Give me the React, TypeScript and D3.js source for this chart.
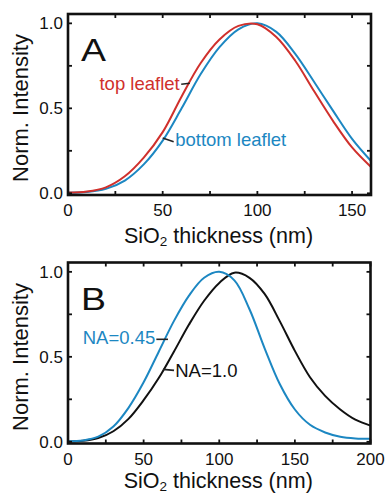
import * as d3 from 'd3';
import { useEffect, useRef } from 'react';

// panel A: top vs bottom leaflet
const thicknessA = [0, 10, 20, 30, 40, 50, 60, 70, 80, 90, 100, 110, 120, 130, 140, 150, 160];
const topLeaflet = [0.004, 0.01, 0.035, 0.1, 0.21, 0.36, 0.57, 0.765, 0.905, 0.985, 0.995, 0.92, 0.78, 0.6, 0.425, 0.27, 0.155];
const bottomLeaflet = [0.003, 0.007, 0.026, 0.075, 0.17, 0.31, 0.5, 0.7, 0.86, 0.965, 1.0, 0.95, 0.82, 0.655, 0.485, 0.32, 0.19];

// panel B: two numerical apertures
const thicknessB = [0, 10, 20, 30, 40, 50, 60, 70, 80, 90, 100, 110, 120, 130, 140, 150, 160, 170, 180, 190, 200];
const na045 = [0.003, 0.008, 0.03, 0.09, 0.2, 0.35, 0.53, 0.71, 0.86, 0.965, 1.0, 0.95, 0.78, 0.55, 0.34, 0.19, 0.1, 0.055, 0.03, 0.02, 0.018];
const na10 = [0.002, 0.006, 0.022, 0.062, 0.135, 0.245, 0.375, 0.53, 0.69, 0.83, 0.935, 0.995, 0.965, 0.87, 0.71, 0.535, 0.38, 0.27, 0.19, 0.13, 0.095];

const xTickLabelsA = [0, 50, 100, 150];
const xTickLabelsB = [0, 50, 100, 150, 200];
const yTickLabels = [0, 0.5, 1];

const RED = '#d0302c';
const BLUE = '#1c87c2';
const INK = '#111';
const FONT = '"Liberation Sans", Arial, sans-serif';

type Series = { xs: number[]; ys: number[]; color: string };
type Note = { text: string; at: [number, number]; anchor: string; color: string; leader: [number, number, number, number] };
type Panel = {
  top: number;
  bottom: number;
  left: number;
  right: number;
  xMax: number;
  xLabels: number[];
  letter: string;
  series: Series[];
  notes: Note[];
  yTitleY: number;
  xTitleY: number;
};

function drawPanel(svg: d3.Selection<SVGSVGElement, unknown, null, undefined>, p: Panel) {
  const g = svg.append('g');
  const x = d3.scaleLinear().domain([0, p.xMax]).range([p.left, p.right]);
  const y = d3.scaleLinear().domain([-0.01, 1.055]).range([p.bottom, p.top]);
  const xMinor = d3.range(0, p.xMax + 1, 25);
  const yMinor = [0, 0.25, 0.5, 0.75, 1];
  const tk = 4;

  const line = d3
    .line<number>()
    .curve(d3.curveCatmullRom.alpha(0.5));

  p.series.forEach((s) => {
    line.x((_, i) => x(s.xs[i])).y((d) => y(d));
    g.append('path')
      .attr('d', line(s.ys))
      .attr('fill', 'none')
      .attr('stroke', s.color)
      .attr('stroke-width', 2);
  });

  // ticks on all four sides, pointing inward
  const tickStyle = (sel: any) => sel.attr('stroke', INK).attr('stroke-width', 1.8);
  g.selectAll('line.xb').data(xMinor).join('line')
    .attr('x1', (d) => x(d)).attr('x2', (d) => x(d))
    .attr('y1', p.bottom).attr('y2', p.bottom - tk).call(tickStyle);
  g.selectAll('line.xt').data(xMinor).join('line')
    .attr('x1', (d) => x(d)).attr('x2', (d) => x(d))
    .attr('y1', p.top).attr('y2', p.top + tk).call(tickStyle);
  g.selectAll('line.yl').data(yMinor).join('line')
    .attr('y1', (d) => y(d)).attr('y2', (d) => y(d))
    .attr('x1', p.left).attr('x2', p.left + tk).call(tickStyle);
  g.selectAll('line.yr').data(yMinor).join('line')
    .attr('y1', (d) => y(d)).attr('y2', (d) => y(d))
    .attr('x1', p.right).attr('x2', p.right - tk).call(tickStyle);

  g.append('rect')
    .attr('x', p.left).attr('y', p.top)
    .attr('width', p.right - p.left).attr('height', p.bottom - p.top)
    .attr('fill', 'none').attr('stroke', INK).attr('stroke-width', 2.6);

  g.selectAll('text.xl').data(p.xLabels).join('text')
    .attr('x', (d) => x(d)).attr('y', p.bottom + 21)
    .attr('text-anchor', 'middle')
    .attr('font-size', 17).attr('fill', INK)
    .text((d) => d);
  g.selectAll('text.yl').data(yTickLabels).join('text')
    .attr('x', p.left - 5).attr('y', (d) => y(d) + 6)
    .attr('text-anchor', 'end')
    .attr('font-size', 17).attr('fill', INK)
    .text(d3.format('.1f'));

  g.append('text')
    .attr('transform', `translate(28,${p.yTitleY}) rotate(-90)`)
    .attr('text-anchor', 'middle')
    .attr('font-size', 22).attr('fill', INK)
    .text('Norm. Intensity');

  const xt = g.append('text')
    .attr('x', (p.left + p.right) / 2 - 1).attr('y', p.xTitleY)
    .attr('text-anchor', 'middle')
    .attr('font-size', 21.5).attr('fill', INK);
  xt.append('tspan').text('SiO');
  xt.append('tspan').attr('font-size', 13.5).attr('dy', 3).text('2');
  xt.append('tspan').attr('dy', -3).text(' thickness (nm)');

  g.append('text')
    .attr('x', p.left + 13).attr('y', p.top + 47)
    .attr('font-size', 31).attr('fill', INK)
    .attr('textLength', 25).attr('lengthAdjust', 'spacingAndGlyphs')
    .text(p.letter);

  p.notes.forEach((n) => {
    g.append('line')
      .attr('x1', x(n.leader[0])).attr('y1', y(n.leader[1]))
      .attr('x2', x(n.leader[2])).attr('y2', y(n.leader[3]))
      .attr('stroke', '#222').attr('stroke-width', 1.6);
    g.append('text')
      .attr('x', x(n.at[0])).attr('y', y(n.at[1]))
      .attr('text-anchor', n.anchor)
      .attr('font-size', 18.5).attr('fill', n.color)
      .text(n.text);
  });
}

export default function App() {
  const ref = useRef<SVGSVGElement | null>(null);

  useEffect(() => {
    const svg = d3.select(ref.current as SVGSVGElement);
    svg.selectAll('*').remove();
    svg.attr('font-family', FONT);

    drawPanel(svg, {
      top: 14, bottom: 195, left: 68, right: 371,
      xMax: 160, xLabels: xTickLabelsA, letter: 'A',
      series: [
        { xs: thicknessA, ys: bottomLeaflet, color: BLUE },
        { xs: thicknessA, ys: topLeaflet, color: RED },
      ],
      notes: [
        { text: 'top leaflet', at: [59, 0.61], anchor: 'end', color: RED, leader: [59.8, 0.642, 64.3, 0.648] },
        { text: 'bottom leaflet', at: [56.6, 0.278], anchor: 'start', color: BLUE, leader: [50, 0.325, 55.8, 0.303] },
      ],
      yTitleY: 108,
      xTitleY: 243,
    });

    drawPanel(svg, {
      top: 262.5, bottom: 443.5, left: 68, right: 370.5,
      xMax: 200, xLabels: xTickLabelsB, letter: 'B',
      series: [
        { xs: thicknessB, ys: na10, color: INK },
        { xs: thicknessB, ys: na045, color: BLUE },
      ],
      notes: [
        { text: 'NA=0.45', at: [57.7, 0.577], anchor: 'end', color: BLUE, leader: [58.4, 0.603, 66.1, 0.603] },
        { text: 'NA=1.0', at: [70.9, 0.381], anchor: 'start', color: INK, leader: [62.8, 0.426, 70.1, 0.42] },
      ],
      yTitleY: 357,
      xTitleY: 487.5,
    });
  }, []);

  return (
    <svg
      ref={ref}
      width={385}
      height={493}
      style={{ position: 'absolute', left: 0, top: 0, background: '#fff' }}
    />
  );
}
